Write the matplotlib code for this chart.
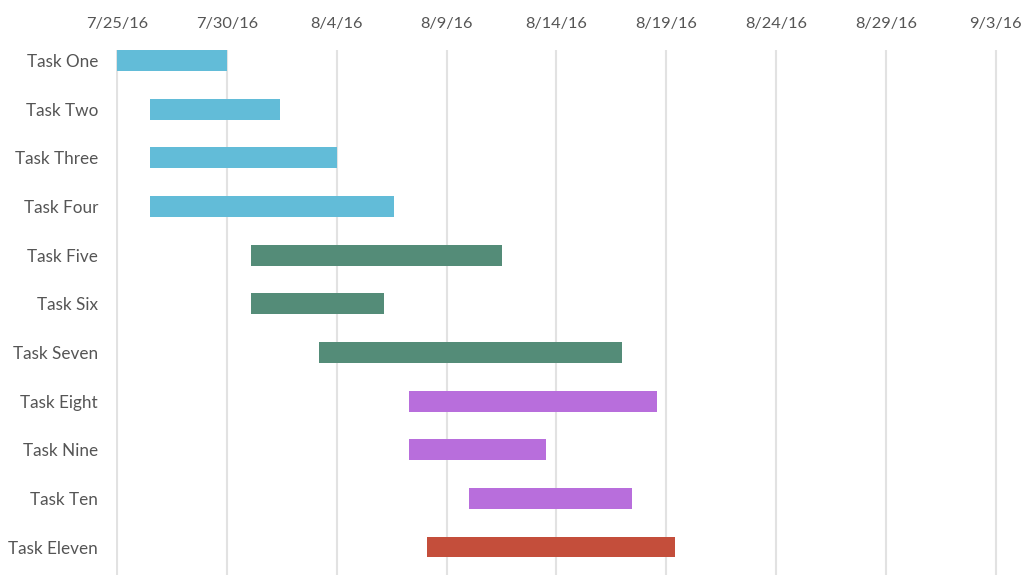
import matplotlib
matplotlib.use("Agg")
import matplotlib.pyplot as plt
import matplotlib.dates as mdates
import pandas as pd

tasks = ["Task One", "Task Two", "Task Three", "Task Four", "Task Five", "Task Six",
         "Task Seven", "Task Eight", "Task Nine", "Task Ten", "Task Eleven"]
starts = ["2016-07-25 00:00", "2016-07-26 12:00", "2016-07-26 12:00", "2016-07-26 12:00",
          "2016-07-31 02:00", "2016-07-31 02:00", "2016-08-03 05:00", "2016-08-07 07:00",
          "2016-08-07 07:00", "2016-08-10 00:00", "2016-08-08 03:00"]
ends = ["2016-07-30 00:00", "2016-08-01 10:00", "2016-08-04 00:00", "2016-08-06 14:00",
        "2016-08-11 12:00", "2016-08-06 04:00", "2016-08-17 00:00", "2016-08-18 14:00",
        "2016-08-13 12:00", "2016-08-17 11:00", "2016-08-19 09:00"]
colors = ["#62bcd8"] * 4 + ["#548c78"] * 3 + ["#b86edc"] * 3 + ["#c44e3b"]
tick_dates = ["2016-07-25", "2016-07-30", "2016-08-04", "2016-08-09", "2016-08-14",
              "2016-08-19", "2016-08-24", "2016-08-29", "2016-09-03"]
tick_labels = ["7/25/16", "7/30/16", "8/4/16", "8/9/16", "8/14/16", "8/19/16",
               "8/24/16", "8/29/16", "9/3/16"]

plt.rcParams['font.family'] = ['Lato', 'DejaVu Sans']

fig = plt.figure(figsize=(10.26, 5.75), dpi=100)
ax = fig.add_axes([116 / 1026, 0.0, 1 - 116 / 1026, 1 - 50 / 575])

s = mdates.date2num(pd.to_datetime(starts))
e = mdates.date2num(pd.to_datetime(ends))
ypos = list(range(len(tasks)))
ax.barh(ypos, e - s, left=s, height=0.43, color=colors, zorder=3)

t = mdates.date2num(pd.to_datetime(tick_dates))
ax.set_xticks(t)
ax.set_xticklabels(tick_labels)
x0 = mdates.date2num(pd.Timestamp("2016-07-25"))
ax.set_xlim(x0 - 0.05, x0 + 41.37)
ax.set_ylim(10.575, -0.216)
ax.set_yticks(ypos)
ax.set_yticklabels(tasks)

ax.xaxis.tick_top()
ax.tick_params(axis='x', length=0, pad=14, labelsize=11.8, labelcolor="#555555")
ax.tick_params(axis='y', length=0, pad=13, labelsize=12.3, labelcolor="#555555")
ax.grid(axis='x', color="#e2e2e2", linewidth=1.5, zorder=0)
ax.grid(axis='y', visible=False)
for sp in ax.spines.values():
    sp.set_visible(False)

fig.savefig("out.png", dpi=100)
